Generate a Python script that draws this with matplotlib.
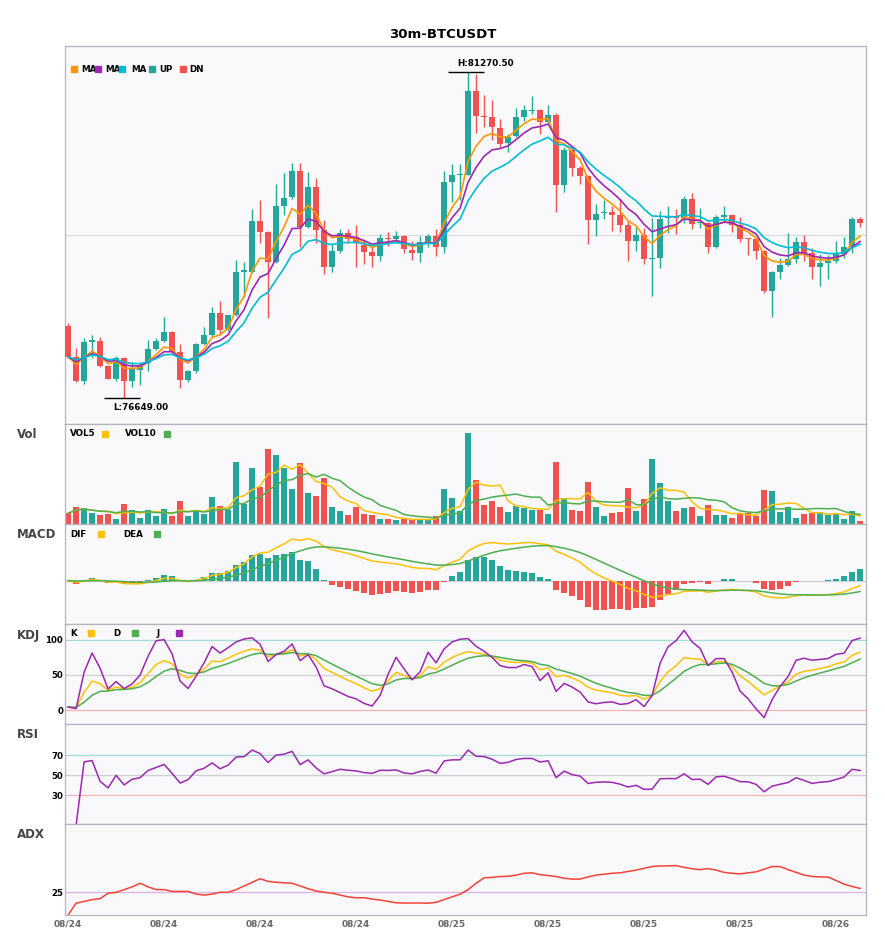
import numpy as np
import pandas as pd

import matplotlib
matplotlib.use('Agg')  # headless
import matplotlib.pyplot as plt


# ---- data (30m candles, 100 bars) ----
opens = [77672, 77238, 76899, 77451, 77460, 77106, 76927, 77224, 76899, 77050,
         77144, 77347, 77465, 77587, 77309, 76908, 77036, 77418, 77545, 77852,
         77625, 77828, 78441, 78441, 79158, 79002, 78583, 79375, 79493, 79865,
         79078, 79644, 79031, 78512, 78733, 78983, 78936, 78818, 78715, 78663,
         78917, 78903, 78946, 78748, 78710, 78856, 78950, 78785, 79714, 79804,
         79809, 80997, 80643, 80629, 80469, 80257, 80360, 80634, 80719, 80728,
         80563, 80657, 79667, 80162, 79912, 79795, 79172, 79266, 79285, 79243,
         79101, 78875, 78960, 78625, 78639, 79196, 79205, 79205, 79469, 79130,
         79130, 78795, 79219, 79243, 79101, 78908, 78898, 78738, 78172, 78441,
         78535, 78620, 78865, 78700, 78512, 78568, 78597, 78686, 78795, 79186]
highs = [77710, 77356, 77498, 77545, 77512, 77121, 77248, 77238, 77168, 77168,
         77474, 77507, 77804, 77606, 77418, 77050, 77427, 77663, 77946, 78026,
         77828, 78606, 78583, 79328, 79455, 79016, 79681, 79832, 79974, 79974,
         79851, 79761, 79172, 78842, 79045, 79049, 79101, 78898, 78818, 78969,
         79007, 79016, 78960, 78880, 78950, 78969, 79045, 79870, 79964, 79964,
         81270.5, 81240, 80940, 80870, 80596, 80384, 80752, 80799, 80926, 80747,
         80799, 80690, 80209, 80219, 79936, 79810, 79398, 79455, 79375, 79455,
         79172, 79068, 79054, 79196, 79299, 79370, 79328, 79512, 79554, 79337,
         79148, 79243, 79370, 79257, 79219, 78917, 78936, 78748, 78450, 78630,
         78993, 78936, 78960, 78771, 78686, 78677, 78875, 78936, 79219, 79210]
lows = [77215, 76885, 76847, 77215, 77097, 76918, 76899, 76649, 76814, 76838,
        77036, 77333, 77451, 77286, 76800, 76885, 77003, 77408, 77521, 77545,
        77606, 77814, 78087, 78417, 78842, 77790, 78559, 79243, 79464, 78785,
        79064, 78842, 78408, 78432, 78700, 78842, 78512, 78545, 78512, 78592,
        78809, 78842, 78700, 78606, 78583, 78795, 78667, 78700, 79431, 79455,
        79804, 80408, 80483, 80304, 80209, 80129, 80351, 80573, 80672, 80384,
        80540, 79290, 79573, 79795, 79677, 78828, 78946, 79186, 79021, 79007,
        78592, 78733, 78545, 78102, 78498, 78993, 78974, 79134, 79040, 79064,
        78710, 78781, 79158, 79007, 78865, 78672, 78625, 78134, 77804, 78333,
        78521, 78559, 78592, 78337, 78243, 78333, 78568, 78630, 78700, 79078]
closes = [77238, 76899, 77446, 77474, 77111, 76927, 77215, 76899, 77059, 77106,
          77347, 77460, 77587, 77309, 76908, 77036, 77418, 77545, 77852, 77616,
          77828, 78432, 78465, 79158, 79007, 78583, 79370, 79488, 79865, 79078,
          79644, 79031, 78512, 78733, 78983, 78898, 78851, 78724, 78663, 78913,
          78903, 78946, 78757, 78710, 78856, 78950, 78785, 79705, 79809, 79813,
          80997, 80648, 80629, 80483, 80247, 80351, 80629, 80728, 80728, 80563,
          80657, 79667, 80162, 79912, 79799, 79172, 79257, 79276, 79243, 79101,
          78875, 78960, 78625, 78639, 79186, 79205, 79196, 79469, 79120, 79139,
          78795, 79210, 79243, 79101, 78908, 78898, 78738, 78172, 78441, 78535,
          78620, 78865, 78700, 78512, 78568, 78592, 78686, 78795, 79186, 79134]
volumes = [330, 520, 490, 340, 280, 310, 160, 610, 430, 190,
           430, 250, 460, 250, 700, 250, 400, 310, 820, 550,
           420, 1870, 600, 1690, 1120, 2230, 2080, 1690, 1060, 1840,
           940, 850, 1390, 520, 400, 280, 520, 310, 280, 160,
           160, 130, 160, 130, 160, 120, 250, 1060, 790, 400,
           2710, 1330, 580, 700, 520, 370, 550, 490, 430, 430,
           310, 1870, 790, 430, 400, 1270, 520, 250, 340, 370,
           1090, 400, 760, 1960, 1240, 700, 400, 490, 520, 250,
           580, 280, 280, 190, 310, 340, 250, 1030, 1000, 370,
           520, 190, 310, 340, 370, 270, 300, 160, 400, 100]
adx = [0, 13, 15, 17, 18, 24, 25, 28, 31, 35,
       31, 28, 28, 26, 26, 26, 23, 22, 23, 25,
       25, 28, 32, 36, 40, 37, 36, 35.5, 35, 32,
       29, 26.5, 25, 24, 22, 20, 19, 19, 17.5, 16.5,
       15, 13.5, 13.2, 13.2, 13.2, 13, 14, 17, 20, 23,
       28, 35, 41, 41.5, 42.4, 42.7, 44, 46, 46.5, 44.5,
       43.5, 42.4, 40.5, 39.6, 39.6, 42, 44, 45, 46, 46.5,
       48, 49.5, 51.5, 53.5, 54, 54.2, 54.5, 52.5, 51, 50,
       51.2, 49.5, 47, 46, 45.4, 46.5, 47.6, 50.5, 53.4, 53.4,
       50, 47, 44, 42.5, 42, 41.8, 38, 34, 31.5, 29.3]

symbol = '30m-BTCUSDT'
start_time = '2025-08-24 00:00'
ma_spans = [5, 8, 13]
ma_colors = ['#ff9800', '#9c27b0', '#00bcd4']

UP = '#26a69a'
DN = '#ef5350'

df = pd.DataFrame({'open': opens, 'high': highs, 'low': lows,
                   'close': closes, 'vol': volumes})
df.index = pd.date_range(start_time, periods=len(df), freq='30min')
n = len(df)
idx = np.arange(n)

# indicators
c = df['close']
mas = [c.ewm(span=s, adjust=False).mean() for s in ma_spans]
vol5 = df['vol'].rolling(5, min_periods=1).mean()
vol10 = df['vol'].rolling(10, min_periods=1).mean()

dif = c.ewm(span=12, adjust=False).mean() - c.ewm(span=26, adjust=False).mean()
dea = dif.ewm(span=9, adjust=False).mean()
hist = 2 * (dif - dea)

llv = df['low'].rolling(9, min_periods=1).min()
hhv = df['high'].rolling(9, min_periods=1).max()
rsv = (c - llv) / (hhv - llv) * 100
k = rsv.ewm(com=2, adjust=False).mean()
d = k.ewm(com=2, adjust=False).mean()
j = 3 * k - 2 * d

delta = c.diff()
gain = delta.clip(lower=0).ewm(com=13).mean()
loss = (-delta.clip(upper=0)).ewm(com=13).mean()
rsi = 100 - 100 / (1 + gain / loss)

up = (df['close'] >= df['open']).values
cols = np.where(up, UP, DN)

# ---- figure layout (pixel based) ----
W, H = 885, 950
fig = plt.figure(figsize=(W / 100, H / 100), dpi=100)
x0, x1 = 65.3, 865.7
panels = [(45.7, 424.3), (424.3, 524.3), (524.3, 624.3),
          (624.3, 724.3), (724.3, 824.3), (824.3, 915.0)]
axes = []
for top, bot in panels:
    ax = fig.add_axes([x0 / W, 1 - bot / H, (x1 - x0) / W, (bot - top) / H])
    ax.set_facecolor('#f9f9fb')
    for s in ax.spines.values():
        s.set_color('#b4b4bc')
        s.set_linewidth(0.9)
    ax.set_xlim(-0.35, 99.7)
    ax.tick_params(axis='x', bottom=False, labelbottom=False)
    ax.tick_params(axis='y', length=0, pad=1.5, labelsize=6.2)
    axes.append(ax)
ax_p, ax_v, ax_m, ax_k, ax_r, ax_a = axes

fig.text(0.5, 1 - 34 / H, symbol, ha='center', va='center',
         fontsize=9.5, fontweight='bold')


def legend(ax, items, y):
    # items: (x, kind, text_or_color)
    for x, kind, val in items:
        if kind == 't':
            ax.text(x, y, val, transform=ax.transAxes, ha='left', va='center',
                    fontsize=6.3, fontweight='bold', zorder=5)
        else:
            ax.plot([x], [y], marker='s', ms=5, color=val, ls='none',
                    transform=ax.transAxes, zorder=6, clip_on=False)


# price panel
ax_p.vlines(idx, df['low'], df['high'], colors=cols, lw=1, zorder=2)
body_lo = np.minimum(df['open'], df['close'])
body_h = np.maximum((df['close'] - df['open']).abs(), 15)
ax_p.bar(idx, body_h, bottom=body_lo, width=0.72, color=cols, linewidth=0, zorder=3)
for ma, col in zip(mas, ma_colors):
    ax_p.plot(idx, ma, color=col, lw=1.2, zorder=4)
hi_v, lo_v = df['high'].max(), df['low'].min()
hi_i, lo_i = int(df['high'].values.argmax()), int(df['low'].values.argmin())
ax_p.axhline((hi_v + lo_v) / 2, color='#dcdce0', lw=0.9, zorder=1)
ax_p.hlines(hi_v, hi_i - 2.5, hi_i + 2, color='black', lw=1)
ax_p.hlines(lo_v, lo_i - 2.5, lo_i + 2, color='black', lw=1)
ax_p.annotate(f'H:{hi_v:.2f}', (hi_i - 1.4, hi_v), xytext=(0, 2.5),
              textcoords='offset points', ha='left', va='bottom',
              fontsize=6.3, fontweight='bold')
ax_p.annotate(f'L:{lo_v:.2f}', (lo_i - 1.4, lo_v), xytext=(0, -3.5),
              textcoords='offset points', ha='left', va='top',
              fontsize=6.3, fontweight='bold')
rng = hi_v - lo_v
ax_p.set_ylim(lo_v - 0.08 * rng, hi_v + 0.08 * rng)
ax_p.set_yticks([])
legend(ax_p, [(0.0196, 't', 'MA'), (0.0496, 't', 'MA'), (0.083, 't', 'MA'),
              (0.117, 't', 'UP'), (0.155, 't', 'DN'),
              (0.0107, 's', ma_colors[0]), (0.0406, 's', ma_colors[1]),
              (0.0707, 's', ma_colors[2]), (0.1082, 's', UP), (0.1469, 's', DN)], 0.938)

# volume
ax_v.bar(idx, df['vol'], width=0.75, color=cols, linewidth=0)
ax_v.plot(idx, vol5, color='#ffc107', lw=1.1)
ax_v.plot(idx, vol10, color='#4caf50', lw=1.1)
ax_v.set_ylim(0, df['vol'].max() * 1.1)
ax_v.set_yticks([])
legend(ax_v, [(0.0059, 't', 'VOL5'), (0.0496, 's', '#ffc107'),
              (0.0746, 't', 'VOL10'), (0.127, 's', '#4caf50')], 0.906)

# macd
ax_m.axhline(0, color='#cfcfd4', lw=0.9, zorder=1)
ax_m.bar(idx, hist, width=0.75, color=np.where(hist >= 0, UP, DN), linewidth=0)
ax_m.plot(idx, dif, color='#ffc107', lw=1.1)
ax_m.plot(idx, dea, color='#4caf50', lw=1.1)
lo_m = min(dif.min(), dea.min(), hist.min())
hi_m = max(dif.max(), dea.max(), hist.max())
span = hi_m - lo_m
ax_m.set_ylim(lo_m - 0.2 * span, hi_m + 0.2 * span)
ax_m.set_yticks([])
legend(ax_m, [(0.0059, 't', 'DIF'), (0.0446, 's', '#ffc107'),
              (0.0721, 't', 'DEA'), (0.1146, 's', '#4caf50')], 0.90)

# kdj
ax_k.axhline(100, color='#a8dad4', lw=0.9)
ax_k.axhline(50, color='#cfcfd4', lw=0.9)
ax_k.axhline(0, color='#f5b3b2', lw=0.9)
ax_k.plot(idx, k, color='#ffc107', lw=1.1)
ax_k.plot(idx, d, color='#4caf50', lw=1.1)
ax_k.plot(idx, j, color='#9c27b0', lw=1.1)
ax_k.set_ylim(-19.8, 121.7)
ax_k.set_yticks([0, 50, 100])
legend(ax_k, [(0.0059, 't', 'K'), (0.032, 's', '#ffc107'),
              (0.0596, 't', 'D'), (0.0872, 's', '#4caf50'),
              (0.1146, 't', 'J'), (0.142, 's', '#9c27b0')], 0.91)

# rsi
ax_r.axhline(70, color='#a8dad4', lw=0.9)
ax_r.axhline(50, color='#cfcfd4', lw=0.9)
ax_r.axhline(30, color='#f5b3b2', lw=0.9)
ax_r.plot(idx, rsi, color='#9c27b0', lw=1.1)
ax_r.set_ylim(1, 101)
ax_r.set_yticks([30, 50, 70])

# adx
ax_a.axhline(25, color='#dcb0e2', lw=0.9)
ax_a.plot(idx, adx, color='#f44336', lw=1.1)
ax_a.set_ylim(0, 100)
ax_a.set_yticks([25])

for ax in axes[2:]:
    for lab in ax.get_yticklabels():
        lab.set_fontweight('bold')

ticks = idx[::12]
ax_a.set_xticks(ticks)
ax_a.set_xticklabels([df.index[i].strftime('%m/%d') for i in ticks])
ax_a.tick_params(axis='x', bottom=False, labelbottom=True, length=0, pad=3,
                 labelsize=6.5, labelcolor='#666666')
for lab in ax_a.get_xticklabels():
    lab.set_fontweight('bold')

for name, top in zip(['Vol', 'MACD', 'KDJ', 'RSI', 'ADX'], [p[0] for p in panels[1:]]):
    fig.text(17 / W, 1 - (top + 10.7) / H, name, ha='left', va='center',
             fontsize=8.5, fontweight='bold', color='#444444')

fig.savefig('out.png', dpi=100)
plt.close(fig)
